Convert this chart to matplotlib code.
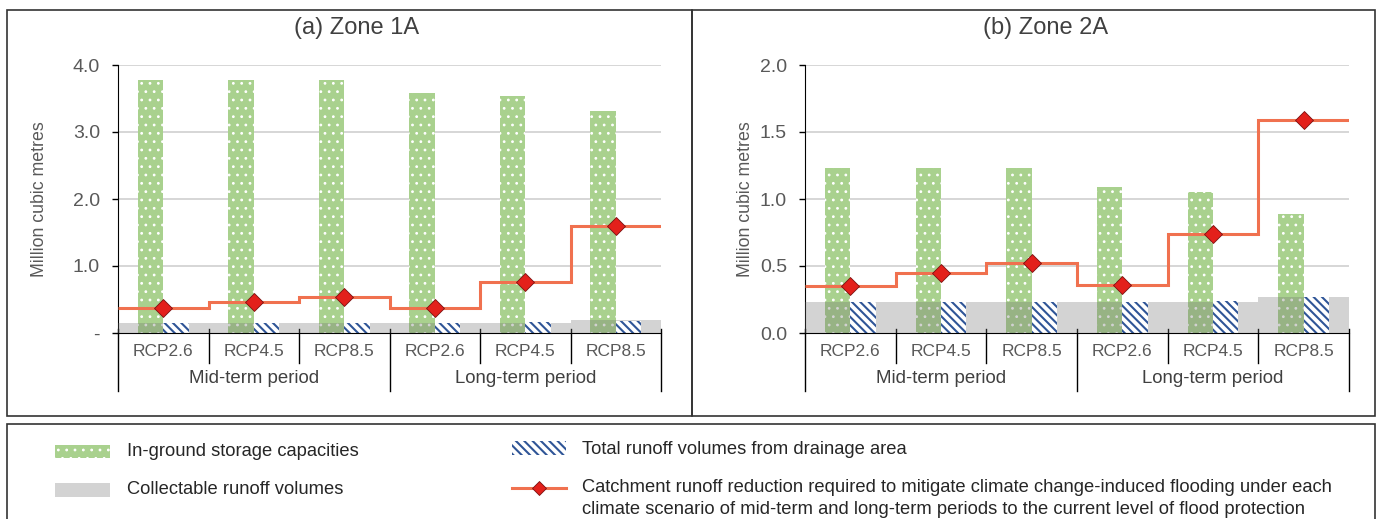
import numpy as np
import matplotlib
matplotlib.use("Agg")
import matplotlib.pyplot as plt
from matplotlib.patches import Rectangle
from matplotlib.lines import Line2D

plt.rcParams['font.family'] = ['Liberation Sans', 'DejaVu Sans']

scenarios = ["RCP2.6", "RCP4.5", "RCP8.5", "RCP2.6", "RCP4.5", "RCP8.5"]
periods = ["Mid-term period", "Long-term period"]

# Zone 1A
storage_1a = [3.77, 3.77, 3.77, 3.58, 3.53, 3.32]
collectable_1a = [0.15, 0.15, 0.15, 0.15, 0.15, 0.19]
runoff_1a = [0.15, 0.15, 0.15, 0.15, 0.16, 0.18]
reduction_1a = [0.37, 0.46, 0.53, 0.37, 0.76, 1.60]

# Zone 2A
storage_2a = [1.23, 1.23, 1.23, 1.09, 1.05, 0.89]
collectable_2a = [0.23, 0.23, 0.23, 0.23, 0.23, 0.27]
runoff_2a = [0.23, 0.23, 0.23, 0.23, 0.24, 0.27]
reduction_2a = [0.35, 0.45, 0.52, 0.36, 0.74, 1.59]

GREEN = '#a9d18e'
GRAY = '#6e6e6e'
BLUE = '#2f5597'
LINE = '#f0714f'
MARK = '#e3201b'
TXT = '#595959'
DOTS = '..'
STRIPES = '\\\\\\\\'

W, H = 1381, 519
fig = plt.figure(figsize=(W / 100, H / 100), dpi=100)


def fx(px):
    return px / W


def fy(py):
    return 1 - py / H


def panel(rect, title, title_x, ylab_x, storage, collect, runoff, reduc, ymax, yticks, ylabels):
    ax = fig.add_axes(rect)
    x = np.arange(len(scenarios))
    bw = 0.28
    with plt.rc_context({'hatch.linewidth': 0.8}):
        ax.bar(x - bw, storage, width=bw, align='edge', color=GREEN, edgecolor='white',
               hatch=DOTS, linewidth=0, zorder=2)
    ax.bar(x, collect, width=1.0, color=GRAY, alpha=0.3, linewidth=0, zorder=3)
    with plt.rc_context({'hatch.linewidth': 1.5}):
        ax.bar(x, runoff, width=bw, align='edge', color='white', edgecolor=BLUE,
               hatch=STRIPES, linewidth=0, zorder=4)
    ax.stairs(reduc, np.arange(len(x) + 1) - 0.5, baseline=None, color=LINE, lw=2.2, zorder=5)
    ax.plot(x, reduc, linestyle='none', marker='D', ms=9, mfc=MARK, mec='#7a1010', mew=0.6, zorder=6)

    ax.set_xlim(-0.5, len(x) - 0.5)
    ax.set_ylim(0, ymax)
    ax.set_yticks(yticks)
    ax.set_yticklabels(ylabels)
    ax.tick_params(axis='y', colors='black', labelcolor=TXT, labelsize=14, length=4, width=1, pad=9)
    ax.tick_params(axis='x', bottom=False, labelbottom=False)
    for t in yticks[1:]:
        ax.axhline(t, color='#d0d0d0', lw=1.2, zorder=1)
    for s in ['top', 'right']:
        ax.spines[s].set_visible(False)
    ax.spines['left'].set_color('black')
    ax.spines['bottom'].set_color('black')
    ax.spines['bottom'].set_zorder(7)

    tr = ax.get_xaxis_transform()
    for i, lab in enumerate(scenarios):
        ax.text(i, -0.068, lab, transform=tr, ha='center', va='center', fontsize=12.5, color=TXT)
    for j, lab in enumerate(periods):
        ax.text(1 + 3 * j, -0.17, lab, transform=tr, ha='center', va='center', fontsize=13.4, color='#404040')
    for b in range(len(x) + 1):
        xb = b - 0.5
        bottom = -0.215 if b % 3 == 0 else -0.112
        ax.add_line(Line2D([xb, xb], [0.015, bottom], transform=tr, color='black', lw=1, clip_on=False))

    fig.text(fx(title_x), fy(28), title, ha='center', va='center', fontsize=17, color='#404040')
    fig.text(fx(ylab_x), (rect[1] + rect[1] + rect[3]) / 2, 'Million cubic metres', rotation=90,
             ha='center', va='center', fontsize=12.8, color=TXT)
    return ax


panel([fx(118), fy(333), fx(661 - 118), fy(65) - fy(333)], '(a) Zone 1A', 357, 40,
      storage_1a, collectable_1a, runoff_1a, reduction_1a, 4.0,
      [0, 1, 2, 3, 4], ['-', '1.0', '2.0', '3.0', '4.0'])
panel([fx(805), fy(333), fx(1349 - 805), fy(65) - fy(333)], '(b) Zone 2A', 1046, 745,
      storage_2a, collectable_2a, runoff_2a, reduction_2a, 2.0,
      [0, 0.5, 1.0, 1.5, 2.0], ['0.0', '0.5', '1.0', '1.5', '2.0'])

# panel frames
for x0, x1, y0, y1 in [(7, 692, 10, 416), (692, 1375, 10, 416), (7, 1375, 424, 530)]:
    fig.add_artist(Rectangle((fx(x0), fy(y1)), fx(x1 - x0), fy(y0) - fy(y1),
                             transform=fig.transFigure, fill=False, ec='#333333', lw=1.2))

# legend
with plt.rc_context({'hatch.linewidth': 0.8}):
    fig.add_artist(Rectangle((fx(55), fy(458)), fx(55), fy(445) - fy(458), transform=fig.transFigure,
                             facecolor=GREEN, edgecolor='white', hatch=DOTS, lw=0))
fig.add_artist(Rectangle((fx(55), fy(497)), fx(55), fy(483) - fy(497), transform=fig.transFigure,
                         facecolor=GRAY, alpha=0.3, lw=0))
with plt.rc_context({'hatch.linewidth': 1.5}):
    fig.add_artist(Rectangle((fx(512), fy(455)), fx(54), fy(441) - fy(455), transform=fig.transFigure,
                             facecolor='white', edgecolor=BLUE, hatch=STRIPES, lw=0))
fig.add_artist(Line2D([fx(512), fx(566)], [fy(488), fy(488)], transform=fig.transFigure, color=LINE, lw=2.2))
fig.add_artist(Line2D([fx(539)], [fy(488)], transform=fig.transFigure, marker='D', ms=7,
                      mfc=MARK, mec='#7a1010', mew=0.6))

leg_fs = 13.2
fig.text(fx(127), fy(451), 'In-ground storage capacities', va='center', fontsize=leg_fs, color='#262626')
fig.text(fx(127), fy(490), 'Collectable runoff volumes', va='center', fontsize=leg_fs, color='#262626')
fig.text(fx(582), fy(449), 'Total runoff volumes from drainage area', va='center', fontsize=leg_fs, color='#262626')
fig.text(fx(582), fy(488), 'Catchment runoff reduction required to mitigate climate change-induced flooding under each',
         va='center', fontsize=leg_fs, color='#262626')
fig.text(fx(582), fy(510), 'climate scenario of mid-term and long-term periods to the current level of flood protection',
         va='center', fontsize=leg_fs, color='#262626')

fig.savefig('out.png', dpi=100)
